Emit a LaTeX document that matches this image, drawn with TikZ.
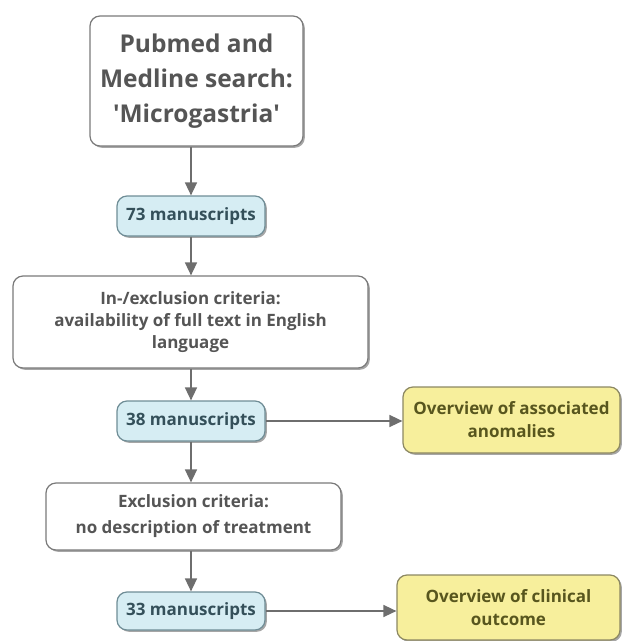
\documentclass[tikz,border=0pt]{standalone}
\usepackage{fontspec}
\setmainfont{Open Sans}
\usetikzlibrary{arrows.meta,shadows}
\definecolor{txtgray}{HTML}{555555}
\definecolor{boxborder}{HTML}{7A7A7A}
\definecolor{bluefill}{HTML}{D6EDF3}
\definecolor{blueborder}{HTML}{6F8D96}
\definecolor{bluetext}{HTML}{34505A}
\definecolor{yelfill}{HTML}{F7EF9C}
\definecolor{yelborder}{HTML}{8C8862}
\definecolor{yeltext}{HTML}{58561E}
\definecolor{arrowgray}{HTML}{6E6E6E}
\begin{document}
\begin{tikzpicture}[x=1pt,y=-1pt,
  shade/.style={drop shadow={shadow xshift=1.8pt,shadow yshift=-1.8pt,fill=black,opacity=0.35}},
  whitebox/.style={shade,draw=boxborder,line width=1.2pt,rounded corners=10pt,fill=white,
    align=center,inner sep=0pt,text=txtgray,font=\bfseries\fontsize{17}{22}\selectfont},
  bluebox/.style={shade,draw=blueborder,line width=1.2pt,rounded corners=10pt,fill=bluefill,
    align=center,inner sep=0pt,text=bluetext,font=\bfseries\fontsize{17}{21}\selectfont,
    minimum width=148pt,minimum height=40pt},
  yelbox/.style={shade,draw=yelborder,line width=1.2pt,rounded corners=10pt,fill=yelfill,
    align=center,inner sep=0pt,text=yeltext,font=\bfseries\fontsize{17}{23}\selectfont},
  flow/.style={draw=arrowgray,line width=1.5pt,-{Triangle[length=13pt,width=12pt]}}]
\useasboundingbox (0,0) rectangle (622,641);
\node[whitebox,minimum width=213pt,minimum height=130pt,font=\bfseries\fontsize{24.5}{35}\selectfont]
  (search) at (196.5,81) {Pubmed and\\Medline search:\\\textquotesingle Microgastria\textquotesingle};
\node[bluebox] (m73) at (191,216) {73 manuscripts};
\node[whitebox,minimum width=355pt,minimum height=92pt]
  (incl) at (190.5,322) {In-/exclusion criteria:\\availability of full text in English\\language};
\node[bluebox] (m38) at (191,421) {38 manuscripts};
\node[yelbox,minimum width=217pt,minimum height=66pt] (assoc) at (511.5,420)
  {Overview of associated\\anomalies};
\node[whitebox,minimum width=295pt,minimum height=67pt,font=\bfseries\fontsize{17}{26}\selectfont]
  (excl) at (193.5,516.5) {Exclusion criteria:\\no description of treatment};
\node[bluebox,minimum height=38pt] (m33) at (191,611) {33 manuscripts};
\node[yelbox,minimum width=223pt,minimum height=65pt] (outc) at (508.5,607.5)
  {Overview of clinical\\outcome};
\draw[flow] (search.south -| m73.north) -- (m73.north);
\draw[flow] (m73.south) -- (m73.south |- incl.north);
\draw[flow] (m73.south |- incl.south) -- (m38.north);
\draw[flow] (m38.east) -- (m38.east -| assoc.west);
\draw[flow] (m38.south) -- (m38.south |- excl.north);
\draw[flow] (m38.south |- excl.south) -- (m33.north);
\draw[flow] (m33.east) -- (m33.east -| outc.west);
\end{tikzpicture}
\end{document}
